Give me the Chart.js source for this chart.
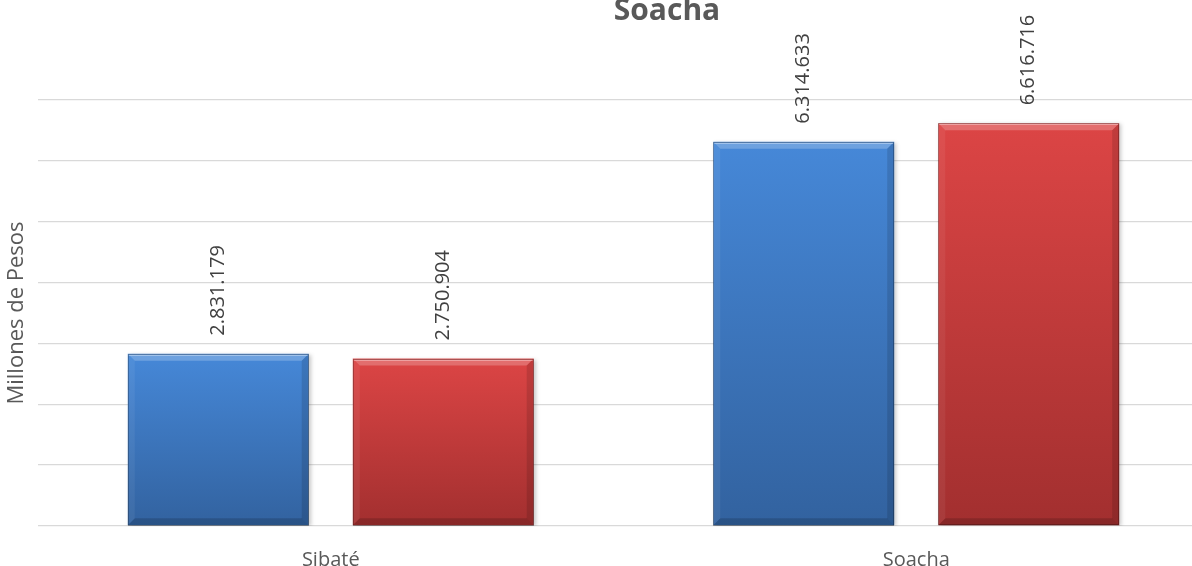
<!DOCTYPE html>
<html><head><meta charset="utf-8">
<script src="https://cdn.jsdelivr.net/npm/chart.js@4.4.1/dist/chart.umd.min.js"></script>
<style>
html,body{margin:0;padding:0;overflow:hidden;background:#fff;width:1192px;height:566px}
#wrap{position:absolute;left:0;top:0;width:1192px;height:566px;overflow:hidden}
canvas{display:block}
</style></head>
<body><div id="wrap"><canvas id="c" width="1334" height="566" style="width:1334px;height:566px"></canvas></div>
<script>
const titleText = 'Soacha';
const axisTitle = 'Millones de Pesos';
const categories = ['Sibaté', 'Soacha'];
const seriesBlue = [2831179, 6314633];
const seriesRed = [2750904, 6616716];
const yMin = 0, yMax = 7000000, yStep = 1000000;

function fmt(v){ return String(v).replace(/\B(?=(\d{3})+(?!\d))/g, '.'); }

function barGradient(top, bottom){
  return function(ctx){
    const chart = ctx.chart;
    if (!chart.chartArea || ctx.type !== 'data') return top;
    const ys = chart.scales.y;
    const v = ctx.dataset.data[ctx.dataIndex];
    const y0 = ys.getPixelForValue(v), y1 = ys.getPixelForValue(0);
    const g = chart.ctx.createLinearGradient(0, y0, 0, y1);
    g.addColorStop(0, top); g.addColorStop(1, bottom);
    return g;
  };
}

const titlePlugin = {
  id: 'topTitle',
  afterDraw(chart){
    const c = chart.ctx;
    c.save();
    c.font = 'bold 30px "Open Sans"';
    c.fillStyle = '#595959';
    c.textAlign = 'center'; c.textBaseline = 'alphabetic';
    c.fillText(titleText, chart.width/2, 20);
    c.restore();
  }
};

const shadowPlugin = {
  id: 'barShadow',
  beforeDatasetsDraw(chart){
    const c = chart.ctx; c.save();
    c.shadowColor = 'rgba(0,0,0,0.22)'; c.shadowBlur = 4; c.shadowOffsetX = 2; c.shadowOffsetY = 1;
  },
  afterDatasetsDraw(chart){ chart.ctx.restore(); }
};

const bevelPlugin = {
  id: 'bevel',
  afterDatasetsDraw(chart){
    const c = chart.ctx;
    chart.data.datasets.forEach((ds, i) => {
      chart.getDatasetMeta(i).data.forEach(bar => {
        const x0 = bar.x - bar.width/2, x1 = bar.x + bar.width/2, y0 = bar.y, y1 = bar.base, b = 7;
        const poly = (pts, fill) => { c.beginPath(); c.moveTo(pts[0][0], pts[0][1]); for (let k=1;k<pts.length;k++) c.lineTo(pts[k][0], pts[k][1]); c.closePath(); c.fillStyle = fill; c.fill(); };
        c.save();
        poly([[x0,y0],[x1,y0],[x1-b,y0+b],[x0+b,y0+b]], 'rgba(255,255,255,0.22)');
        poly([[x0,y0],[x0+b,y0+b],[x0+b,y1-b],[x0,y1]], 'rgba(255,255,255,0.06)');
        poly([[x1,y0],[x1,y1],[x1-b,y1-b],[x1-b,y0+b]], 'rgba(0,0,0,0.12)');
        poly([[x0,y1],[x0+b,y1-b],[x1-b,y1-b],[x1,y1]], 'rgba(0,0,0,0.16)');
        c.strokeStyle = 'rgba(0,0,0,0.25)'; c.lineWidth = 1;
        c.strokeRect(Math.round(x0)+0.5, Math.round(y0)+0.5, Math.round(x1-x0)-1, Math.round(y1-y0)-1);
        c.beginPath(); c.moveTo(x0+1, Math.round(y0)+1.5); c.lineTo(x1-1, Math.round(y0)+1.5);
        c.strokeStyle = 'rgba(255,255,255,0.35)'; c.stroke();
        c.restore();
      });
    });
  }
};

const labelPlugin = {
  id: 'vlabels',
  afterDatasetsDraw(chart){
    const c = chart.ctx;
    chart.data.datasets.forEach((ds, i) => {
      chart.getDatasetMeta(i).data.forEach((bar, j) => {
        c.save();
        c.translate(bar.x, bar.y - 18);
        c.rotate(-Math.PI/2);
        c.font = '20px "Open Sans"';
        c.fillStyle = '#404040';
        c.textAlign = 'left'; c.textBaseline = 'middle';
        c.fillText(fmt(ds.data[j]), 0, 0);
        c.restore();
      });
    });
  }
};

new Chart(document.getElementById('c'), {
  type: 'bar',
  data: {
    labels: categories,
    datasets: [
      { label: 'Serie 1', data: seriesBlue, backgroundColor: barGradient('#4688d8', '#32629f'), borderWidth: 0 },
      { label: 'Serie 2', data: seriesRed, backgroundColor: barGradient('#dc4545', '#a22f2f'), borderWidth: 0 }
    ]
  },
  options: {
    responsive: false,
    animation: false,
    devicePixelRatio: 1,
    categoryPercentage: 0.7686,
    barPercentage: 0.804,
    layout: { padding: { top: 100, right: 125, left: 0, bottom: 0 } },
    plugins: { legend: { display: false }, tooltip: { enabled: false }, title: { display: false } },
    scales: {
      x: {
        grid: { display: false },
        border: { display: false },
        ticks: { color: '#595959', font: { family: 'Open Sans', size: 20 }, padding: 14 },
        afterFit(s){ s.height = 40; }
      },
      y: {
        min: yMin, max: yMax,
        ticks: { display: false, stepSize: yStep },
        grid: { color: '#d9d9d9', lineWidth: 1.3, drawTicks: false },
        border: { display: false },
        title: { display: true, text: axisTitle, color: '#595959', font: { family: 'Open Sans', size: 22 }, padding: { top: 4, bottom: 0 } },
        afterFit(s){ s.width = 38; }
      }
    }
  },
  plugins: [shadowPlugin, bevelPlugin, labelPlugin, titlePlugin]
});
</script>
</body></html>
